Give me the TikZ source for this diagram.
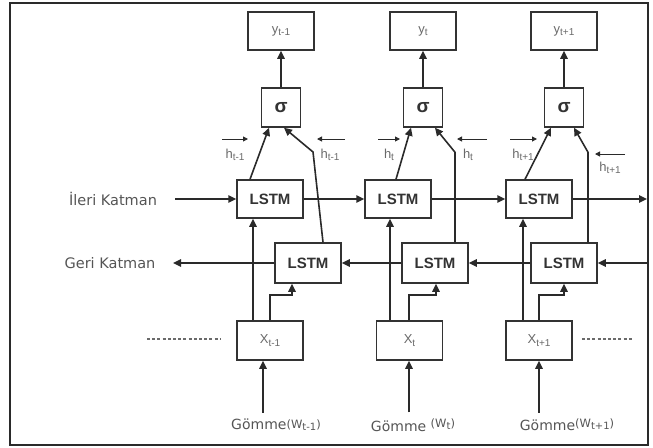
\documentclass[tikz,border=0pt]{standalone}
\usepackage{fontspec}
\setmainfont{Liberation Sans}
\newfontfamily\dvfont{DejaVu Sans}
\usetikzlibrary{arrows.meta}
\definecolor{linec}{HTML}{2A2A2A}
\definecolor{boxc}{HTML}{333333}
\definecolor{txtc}{HTML}{555555}
\definecolor{ltxt}{HTML}{6A6A6A}
\newcommand\mysub[1]{\raisebox{-0.35ex}{\fontsize{10}{11}\selectfont #1}}
\begin{document}
\begin{tikzpicture}[x=1pt,y=-1pt,
  line/.style={draw=linec, line width=1.6pt},
  arr/.style={line, -{Triangle[length=8pt,width=7.5pt]}},
  harr/.style={draw=linec, line width=1pt, -{Triangle[length=5pt,width=5pt]}},
  box/.style={draw=boxc, line width=1.5pt, minimum width=66pt, minimum height=38pt, inner sep=0pt, fill=white},
  sbox/.style={box, minimum width=39pt, minimum height=39pt, font=\fontsize{19}{21}\selectfont\bfseries, text=boxc},
  lstm/.style={box, font=\fontsize{15}{18}\selectfont\bfseries, text=boxc},
  small/.style={font=\fontsize{13}{15}\selectfont, text=ltxt},
  hlab/.style={font=\fontsize{13}{15}\selectfont, text=ltxt, inner sep=0pt},
  side/.style={font=\dvfont\fontsize{14.5}{17}\selectfont, text=txtc, inner sep=0pt},
  glab/.style={font=\dvfont\fontsize{14}{17}\selectfont, text=txtc, inner sep=0pt},
  dots/.style={draw=ltxt, line width=1.2pt, dash pattern=on 3pt off 2.2pt}
]
\useasboundingbox (0,0) rectangle (653,447);
\draw[draw=linec, line width=2pt] (10,3) rectangle (648,445);

% output boxes
\node[box, small] (y1) at (281,31) {y\mysub{t-1}};
\node[box, small] (y2) at (423,31) {y\mysub{t}};
\node[box, small] (y3) at (564,31) {y\mysub{t+1}};
% sigma boxes
\node[sbox] (s1) at (281,107.5) {σ};
\node[sbox] (s2) at (423,107.5) {σ};
\node[sbox] (s3) at (564,107.5) {σ};
% forward LSTM
\node[lstm] (f1) at (270,199) {LSTM};
\node[lstm] (f2) at (398,199) {LSTM};
\node[lstm] (f3) at (539,199) {LSTM};
% backward LSTM
\node[lstm, minimum height=40pt] (b1) at (308,263) {LSTM};
\node[lstm, minimum height=40pt] (b2) at (435,263) {LSTM};
\node[lstm, minimum height=40pt] (b3) at (564,263) {LSTM};
% inputs
\node[box, small, minimum height=39pt] (x1) at (270,340.5) {X\mysub{t-1}};
\node[box, small, minimum height=39pt] (x2) at (409.5,340.5) {X\mysub{t}};
\node[box, small, minimum height=39pt] (x3) at (539,340.5) {X\mysub{t+1}};

% side labels
\node[side] (il) at (113,199) {İleri Katman};
\node[side] (gk) at (110,263) {Geri Katman};
\coordinate (fin) at (175,199);
\coordinate (fout) at (647,199);
\coordinate (bin) at (648,263);
\coordinate (bout) at (173,263);

% embedding labels
\node[glab] (g1) at (276,425) {Gömme{\fontsize{11.5}{12}\selectfont\raisebox{1pt}{(W\mysub{t-1})}}};
\node[glab] (g2) at (413,425) {Gömme {\fontsize{11.5}{12}\selectfont\raisebox{4pt}{(W\mysub{t})}}};
\node[glab] (g3) at (567,425) {Gömme{\fontsize{11.5}{12}\selectfont\raisebox{3pt}{(W\mysub{t+1})}}};

% hidden-state labels
\node[hlab] (hf1) at (235,155) {h\mysub{t-1}};
\node[hlab] (hb1) at (330,155) {h\mysub{t-1}};
\node[hlab] (hf2) at (389,155) {h\mysub{t}};
\node[hlab] (hb2) at (468,155) {h\mysub{t}};
\node[hlab] (hf3) at (523,155) {h\mysub{t+1}};
\node[hlab] (hb3) at (610,168) {h\mysub{t+1}};
\draw[harr] ([shift={(-13,-16)}]hf1.center) -- ([shift={(13,-16)}]hf1.center);
\draw[harr] ([shift={(15,-16)}]hb1.center) -- ([shift={(-13,-16)}]hb1.center);
\draw[harr] ([shift={(-11,-16)}]hf2.center) -- ([shift={(11,-16)}]hf2.center);
\draw[harr] ([shift={(19,-16)}]hb2.center) -- ([shift={(-11,-16)}]hb2.center);
\draw[harr] ([shift={(-13,-16)}]hf3.center) -- ([shift={(14,-16)}]hf3.center);
\draw[harr] ([shift={(15,-14)}]hb3.center) -- ([shift={(-15,-14)}]hb3.center);

% sigma -> output
\draw[arr] (s1.north) -- (y1.south);
\draw[arr] (s2.north) -- (y2.south);
\draw[arr] (s3.north) -- (y3.south);

% forward LSTM -> sigma
\draw[arr] ([xshift=-20pt]f1.north) -- ([xshift=-12pt]s1.south);
\draw[arr] ([xshift=-2pt]f2.north) -- ([xshift=-12pt]s2.south);
\draw[arr] ([xshift=-14pt]f3.north) -- ([xshift=-13pt]s3.south);

% backward LSTM -> sigma
\draw[arr] ([xshift=15pt]b1.north) -- (313,152) -- ([xshift=3pt]s1.south);
\draw[arr] ([xshift=20pt]b2.north) -- ++(0,-90) -- ([xshift=12pt]s2.south);
\draw[arr] ([xshift=24pt]b3.north) -- ++(0,-90) -- ([xshift=10pt]s3.south);

% forward chain
\draw[arr] (fin) -- (f1.west);
\draw[arr] (f1.east) -- (f2.west);
\draw[arr] (f2.east) -- (f3.west);
\draw[arr] (f3.east) -- (fout);

% backward chain
\draw[arr] (bin) -- (b3.east);
\draw[arr] (b3.west) -- (b2.east);
\draw[arr] (b2.west) -- (b1.east);
\draw[arr] (b1.west) -- (bout);

% inputs -> forward LSTM
\draw[arr] ([xshift=-17pt]x1.north) -- ([xshift=-17pt]f1.south);
\draw[arr] ([xshift=-19.5pt]x2.north) -- ([xshift=-8pt]f2.south);
\draw[arr] ([xshift=-16pt]x3.north) -- ([xshift=-16pt]f3.south);

% inputs -> backward LSTM (elbow)
\draw[arr] (x1.north) -- (270,295) -- (292,295) -- ([xshift=-16pt]b1.south);
\draw[arr] ([xshift=-0.5pt]x2.north) -- (409,295) -- (436,295) -- ([xshift=1pt]b2.south);
\draw[arr] (x3.north) -- (539,295) -- (564,295) -- (b3.south);

% embeddings -> inputs
\draw[arr] ([xshift=-7pt,yshift=6pt]x1.south |- g1.north) -- ([xshift=-7pt]x1.south);
\draw[arr] ([xshift=-0.5pt,yshift=6pt]x2.south |- g2.north) -- ([xshift=-0.5pt]x2.south);
\draw[arr] ([yshift=6pt]x3.south |- g3.north) -- (x3.south);

% continuation dashes
\draw[dots] (147,339) -- (220,339);
\draw[dots] (582,339) -- (633,339);
\end{tikzpicture}
\end{document}
